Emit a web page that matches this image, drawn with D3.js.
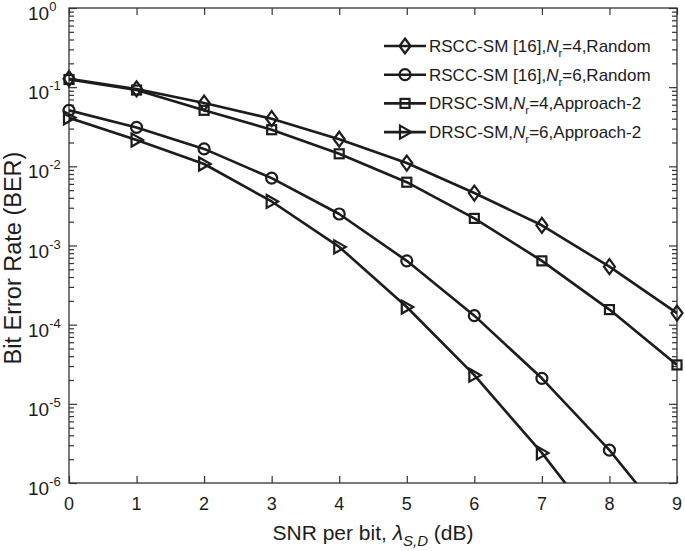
<!DOCTYPE html>
<html>
<head>
<meta charset="utf-8">
<script src="https://cdn.jsdelivr.net/npm/d3@7"></script>
<style>
  html, body { margin: 0; padding: 0; background: #fff; }
  svg { display: block; font-family: "Liberation Sans", Arial, Helvetica, sans-serif; }
</style>
</head>
<body>
<svg id="chart" width="685" height="551"></svg>
<script>
// ---- data ----
const snr = [0, 1, 2, 3, 4, 5, 6, 7, 8, 9];
const rsccNr4 = [0.128, 0.095, 0.063, 0.040, 0.022, 0.011, 0.0046, 0.0018, 0.00054, 0.00014];
const rsccNr6 = [0.051, 0.031, 0.0166, 0.0071, 0.0025, 0.00064, 0.00013, 0.000021, 0.0000026, 0.00000023];
const drscNr4 = [0.125, 0.092, 0.051, 0.029, 0.0144, 0.0063, 0.0022, 0.00064, 0.000155, 0.000031];
const drscNr6 = [0.041, 0.0215, 0.0107, 0.0036, 0.00096, 0.000167, 0.000023, 0.0000024, 0.00000019];
const seriesNames = ["RSCC-SM [16],", "RSCC-SM [16],", "DRSC-SM,", "DRSC-SM,"];
const seriesNr = ["4", "6", "4", "6"];
const seriesTail = [",Random", ",Random", ",Approach-2", ",Approach-2"];
const seriesMarkers = ["diamond", "circle", "square", "triangleRight"];
const xTicks = [0, 1, 2, 3, 4, 5, 6, 7, 8, 9];
const yExponents = [0, -1, -2, -3, -4, -5, -6];

const seriesValues = [rsccNr4, rsccNr6, drscNr4, drscNr6];

// ---- layout ----
const svg = d3.select("#chart");
const m = { left: 69, right: 677, top: 8, bottom: 483 };
const ink = "#1c1c1c";

const x = d3.scaleLinear().domain([0, 9]).range([m.left, m.right]);
const y = d3.scaleLog().domain([1e-6, 1]).range([m.bottom, m.top]);

svg.append("defs").append("clipPath").attr("id", "plotclip")
  .append("rect").attr("x", m.left).attr("y", m.top)
  .attr("width", m.right - m.left).attr("height", m.bottom - m.top);

// ---- axes (box with inward ticks) ----
const majorY = yExponents.map(e => Math.pow(10, e));
const minorY = [];
for (let e = -6; e < 0; e++) for (let k = 2; k <= 9; k++) minorY.push(k * Math.pow(10, e));

const g = svg.append("g");
g.append("g").attr("transform", `translate(${m.left},0)`)
  .call(d3.axisRight(y).tickValues(majorY).tickSize(8).tickFormat(""))
  .call(a => a.select(".domain").remove());
g.append("g").attr("transform", `translate(${m.left},0)`)
  .call(d3.axisRight(y).tickValues(minorY).tickSize(5).tickFormat(""))
  .call(a => a.select(".domain").remove());
g.append("g").attr("transform", `translate(${m.right},0)`)
  .call(d3.axisLeft(y).tickValues(majorY).tickSize(8).tickFormat(""))
  .call(a => a.select(".domain").remove());
g.append("g").attr("transform", `translate(${m.right},0)`)
  .call(d3.axisLeft(y).tickValues(minorY).tickSize(5).tickFormat(""))
  .call(a => a.select(".domain").remove());
g.append("g").attr("transform", `translate(0,${m.bottom})`)
  .call(d3.axisTop(x).tickValues(xTicks).tickSize(7).tickFormat(""))
  .call(a => a.select(".domain").remove());
g.append("g").attr("transform", `translate(0,${m.top})`)
  .call(d3.axisBottom(x).tickValues(xTicks).tickSize(7).tickFormat(""))
  .call(a => a.select(".domain").remove());
g.selectAll(".tick line").attr("stroke", "#333").attr("stroke-width", 1.2);

g.append("rect").attr("x", m.left).attr("y", m.top)
  .attr("width", m.right - m.left).attr("height", m.bottom - m.top)
  .attr("fill", "none").attr("stroke", "#333").attr("stroke-width", 1.3);

// tick labels
g.selectAll(".xlab").data(xTicks).enter().append("text")
  .attr("x", d => x(d)).attr("y", m.bottom + 27)
  .attr("text-anchor", "middle").attr("font-size", 18).attr("fill", ink)
  .text(d => d);

const yl = g.selectAll(".ylab").data(yExponents).enter().append("text")
  .attr("x", 28).attr("y", d => y(Math.pow(10, d)) + 12)
  .attr("text-anchor", "start").attr("font-size", 19).attr("fill", ink);
yl.append("tspan").text("10");
yl.append("tspan").attr("dy", -9).attr("font-size", 13).text(d => d === 0 ? "0" : "-" + Math.abs(d));

// axis titles
const xt = svg.append("text").attr("x", (m.left + m.right) / 2).attr("y", 540)
  .attr("text-anchor", "middle").attr("font-size", 21).attr("fill", ink);
xt.append("tspan").text("SNR per bit, ");
xt.append("tspan").attr("font-style", "italic").text("λ");
xt.append("tspan").attr("font-style", "italic").attr("font-size", 15).attr("dy", 6).text("S,D");
xt.append("tspan").attr("dy", -6).text(" (dB)");

svg.append("text")
  .attr("transform", `translate(21,258) rotate(-90)`)
  .attr("text-anchor", "middle").attr("font-size", 23.5).attr("fill", ink)
  .text("Bit Error Rate (BER)");

// ---- markers ----
function drawMarker(sel, type, cx, cy) {
  let el;
  if (type === "diamond") {
    el = sel.append("path").attr("d", `M${cx},${cy - 7.5}L${cx + 5.5},${cy}L${cx},${cy + 7.5}L${cx - 5.5},${cy}Z`);
  } else if (type === "circle") {
    el = sel.append("circle").attr("cx", cx).attr("cy", cy).attr("r", 5.5);
  } else if (type === "square") {
    el = sel.append("rect").attr("x", cx - 4.5).attr("y", cy - 4.5).attr("width", 9).attr("height", 9);
  } else {
    el = sel.append("path").attr("d", `M${cx + 6.5},${cy}L${cx - 5},${cy - 6.5}L${cx - 5},${cy + 6.5}Z`);
  }
  el.attr("fill", "none").attr("stroke", ink).attr("stroke-width", 2.2);
}

// ---- series ----
const line = d3.line().x(d => x(d.x)).y(d => y(d.v));
seriesValues.forEach((vals, i) => {
  const pts = vals.map((v, j) => ({ x: snr[j], v }));
  svg.append("path").datum(pts).attr("clip-path", "url(#plotclip)")
    .attr("d", line).attr("fill", "none").attr("stroke", ink)
    .attr("stroke-width", 2.6).attr("stroke-linejoin", "round");
  const mg = svg.append("g");
  pts.filter(p => p.v >= 1e-6 && p.v <= 1).forEach(p => drawMarker(mg, seriesMarkers[i], x(p.x), y(p.v)));
});

// ---- legend ----
const lg = svg.append("g");
seriesNames.forEach((name, i) => {
  const ry = 46 + 28.7 * i;
  lg.append("line").attr("x1", 384).attr("x2", 426).attr("y1", ry).attr("y2", ry)
    .attr("stroke", ink).attr("stroke-width", 2.6);
  drawMarker(lg, seriesMarkers[i], 405, ry);
  const t = lg.append("text").attr("x", 429).attr("y", ry + 6)
    .attr("font-size", 17).attr("fill", ink);
  t.append("tspan").text(name);
  t.append("tspan").attr("font-style", "italic").text("N");
  t.append("tspan").attr("font-size", 11.5).attr("dy", 5).text("r");
  t.append("tspan").attr("dy", -5).text("=" + seriesNr[i] + seriesTail[i]);
});
</script>
</body>
</html>
